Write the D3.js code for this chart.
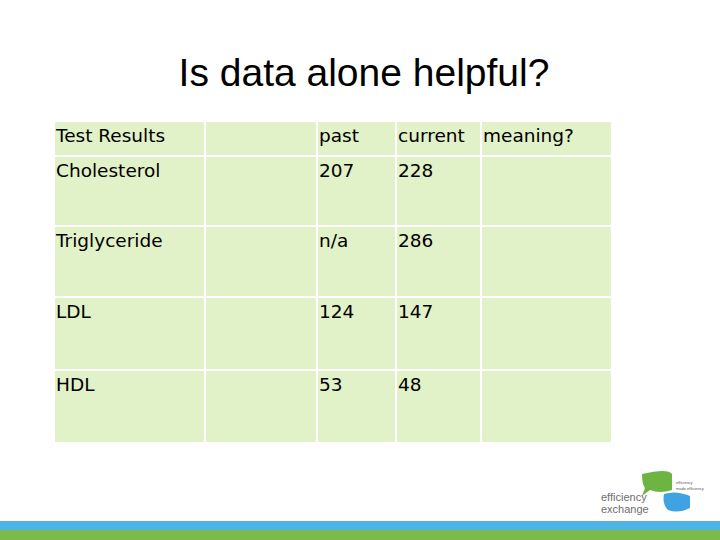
<!DOCTYPE html>
<html><head><meta charset="utf-8">
<script src="https://cdn.jsdelivr.net/npm/d3@7"></script>
<style>body{margin:0;background:#fff}</style>
</head><body><div id="vis"></div>
<script>
const WIDTH = 720, HEIGHT = 540;
const columns = ["Test Results", "", "past", "current", "meaning?"];
const tests = ["Cholesterol", "Triglyceride", "LDL", "HDL"];
const past = ["207", "n/a", "124", "53"];
const current = ["228", "286", "147", "48"];

const colEdges = [54, 205, 317, 396, 481, 612];
const rowEdges = [121, 156, 226, 297, 370, 443];

const rows = [columns].concat(tests.map((t, i) => [t, "", past[i], current[i], ""]));

const svg = d3.select("#vis").append("svg").attr("width", WIDTH).attr("height", HEIGHT);

svg.append("text").attr("x", 364).attr("y", 86).attr("text-anchor", "middle")
  .attr("font-family", "Liberation Sans, Arial").attr("font-size", 39).attr("fill", "#000")
  .text("Is data alone helpful?");

const cells = [];
rows.forEach((r, ri) => r.forEach((v, ci) => cells.push({ri, ci, v})));

const g = svg.append("g");
g.selectAll("rect").data(cells).enter().append("rect")
  .attr("x", d => colEdges[d.ci]).attr("y", d => rowEdges[d.ri])
  .attr("width", d => colEdges[d.ci + 1] - colEdges[d.ci])
  .attr("height", d => rowEdges[d.ri + 1] - rowEdges[d.ri])
  .attr("fill", "#e1f1c8").attr("stroke", "#fff").attr("stroke-width", 2);

g.selectAll("text").data(cells.filter(d => d.v)).enter().append("text")
  .attr("x", d => colEdges[d.ci] + 2).attr("y", d => rowEdges[d.ri] + 21)
  .attr("font-family", "DejaVu Sans, Verdana").attr("font-size", 18.5).attr("fill", "#000")
  .text(d => d.v);

// footer bands
svg.append("rect").attr("x", 0).attr("y", 521).attr("width", WIDTH).attr("height", 9).attr("fill", "#4fb3e6");
svg.append("rect").attr("x", 0).attr("y", 530).attr("width", WIDTH).attr("height", 10).attr("fill", "#7dba4c");

// logo
const logo = svg.append("g");
logo.append("path").attr("d", "M642,474 Q668,468 672,474 L672,490 Q660,494 650,490 L642,496 L645,488 Q642,484 642,474 Z").attr("fill", "#6db443");
logo.append("path").attr("d", "M664,494 Q676,490 690,496 L690,508 Q678,514 668,510 Q662,504 664,494 Z").attr("fill", "#3ea3e0");
logo.append("text").attr("x", 601).attr("y", 501).attr("font-family", "Liberation Sans, Arial").attr("font-size", 11).attr("fill", "#6d6e71").text("efficiency");
logo.append("text").attr("x", 601).attr("y", 513).attr("font-family", "Liberation Sans, Arial").attr("font-size", 11).attr("fill", "#6d6e71").text("exchange");
logo.append("text").attr("x", 676).attr("y", 484).attr("font-family", "Liberation Sans, Arial").attr("font-size", 4).attr("fill", "#555").text("efficiency");
logo.append("text").attr("x", 676).attr("y", 490).attr("font-family", "Liberation Sans, Arial").attr("font-size", 4).attr("fill", "#555").text("made efficiency");
</script></body></html>
